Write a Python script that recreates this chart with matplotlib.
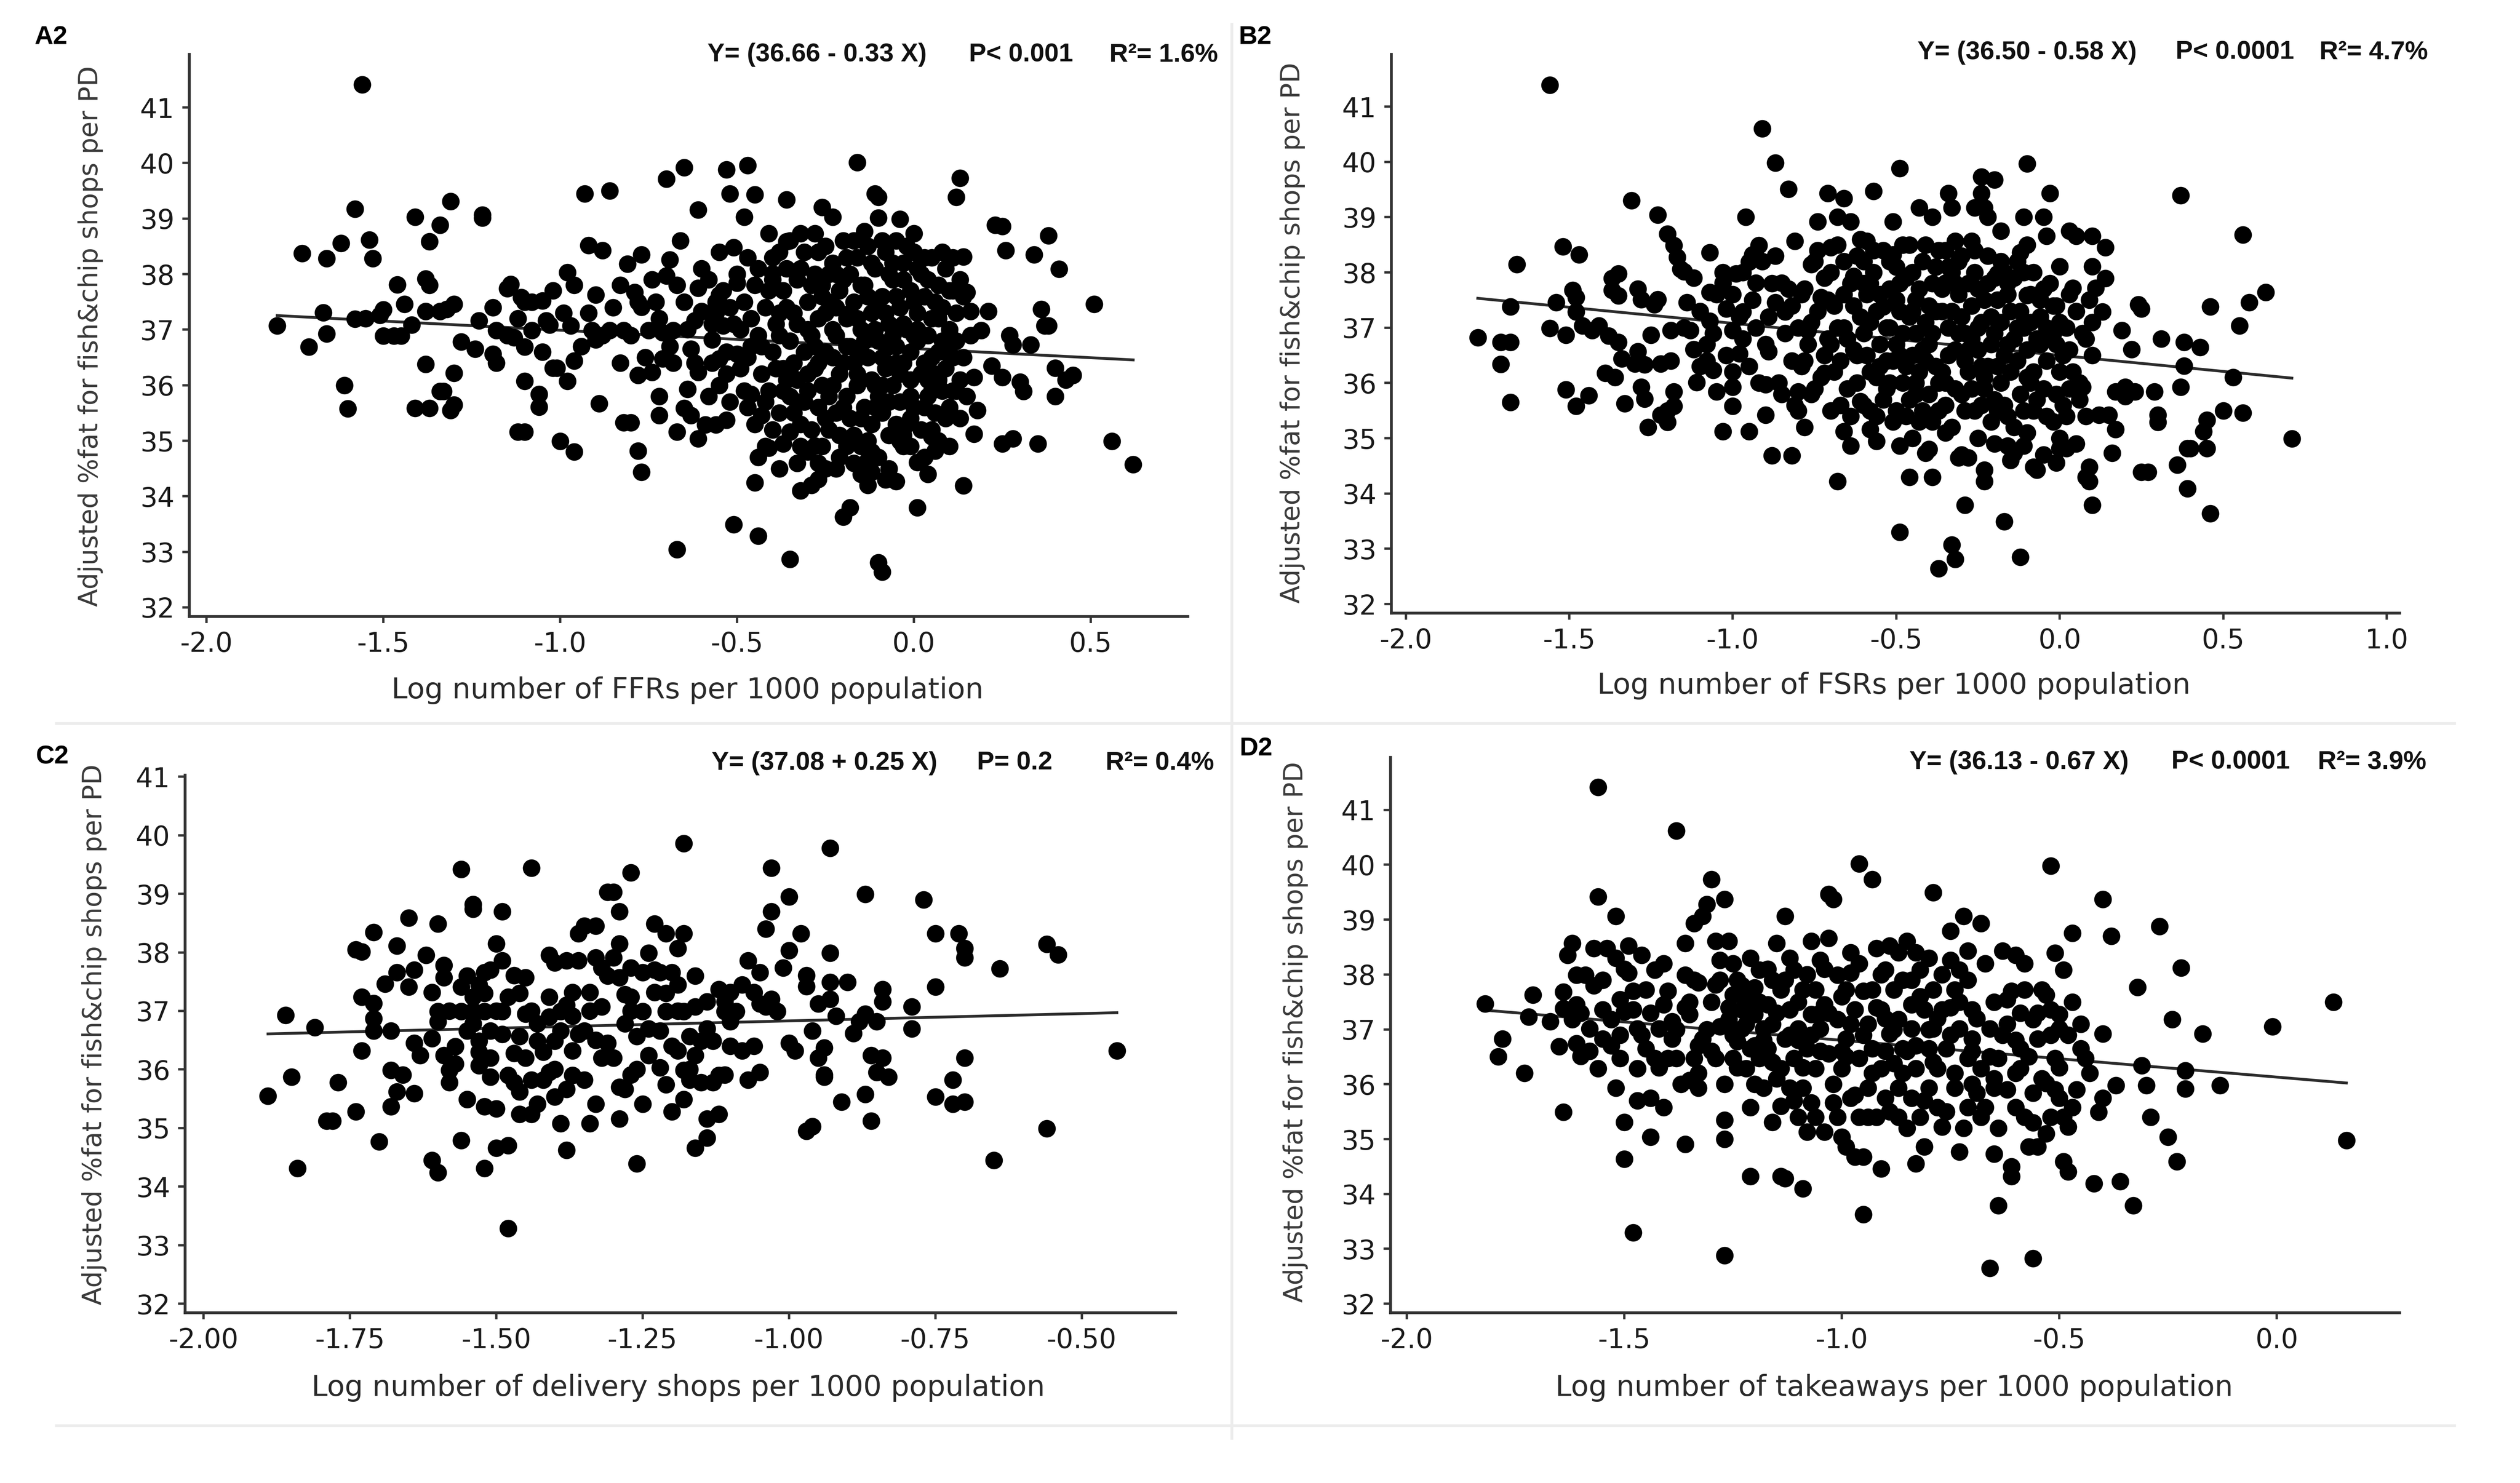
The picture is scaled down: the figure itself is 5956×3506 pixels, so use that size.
import numpy as np
import matplotlib
matplotlib.use("Agg")
import matplotlib.pyplot as plt
from matplotlib.ticker import FormatStrFormatter
from matplotlib.lines import Line2D

plt.rcParams['font.family'] = ['DejaVu Sans']
plt.rcParams['axes.unicode_minus'] = False

# ---- data (x = log number per 1000 pop, y = adjusted %fat) ----
ffr_pts = np.array([
    (-1.80,37.07),(-1.73,38.37),(-1.71,36.69),(-1.66,38.28),(-1.67,37.31),(-1.66,36.93),(-1.62,38.56),(-1.61,36.00),
    (-1.60,35.58),(-1.58,39.17),(-1.56,41.41),(-1.58,37.19),(-1.55,37.20),(-1.54,38.62),(-1.53,38.28),(-1.51,37.26),
    (-1.50,37.36),(-1.50,36.89),(-1.47,36.89),(-1.45,36.89),(-1.46,37.81),(-1.44,37.46),(-1.42,37.09),(-1.41,39.03),
    (-1.41,35.59),(-1.38,36.38),(-1.37,38.59),(-1.38,37.92),(-1.37,37.80),(-1.37,35.59),(-1.38,37.33),(-1.34,38.88),
    (-1.34,37.33),(-1.34,35.89),(-1.33,35.89),(-1.32,37.37),(-1.31,39.31),(-1.30,36.22),(-1.30,37.46),(-1.30,35.65),
    (-1.31,35.55),(-1.28,36.78),(-1.24,36.65),(-1.23,37.16),(-1.22,39.07),(-1.22,39.01),(-1.19,37.40),(-1.19,36.56),
    (-1.18,36.40),(-1.18,36.99),(-1.15,37.74),(-1.14,37.82),(-1.13,36.86),(-1.12,35.16),(-1.10,35.16),(-1.11,37.58),
    (-1.10,37.50),(-1.08,36.99),(-1.10,36.69),(-1.10,36.07),(-1.06,35.84),(-1.06,35.61),(-1.05,37.52),(-1.04,37.16),
    (-1.03,37.09),(-1.02,36.31),(-1.01,36.31),(-1.00,34.99),(-0.98,38.03),(-0.98,36.07),(-0.96,36.44),(-0.96,34.80),
    (-0.97,37.07),(-0.93,39.45),(-0.92,38.52),(-0.90,37.63),(-0.91,36.99),(-0.90,36.82),(-0.89,35.67),(-0.88,38.43),
    (-0.86,39.50),(-0.86,36.99),(-0.83,37.80),(-0.82,36.99),(-0.81,38.18),(-0.82,35.33),(-0.80,35.33),(-0.79,37.67),
    (-0.77,38.35),(-0.78,36.18),(-0.78,34.82),(-0.77,34.44),(-0.77,37.41),(-0.75,36.99),(-0.74,36.23),(-0.73,37.50),
    (-0.72,35.80),(-0.72,35.46),(-0.71,36.95),(-0.71,36.48),(-0.70,39.71),(-0.70,37.97),(-0.69,38.26),(-0.68,36.40),
    (-0.68,36.99),(-0.67,35.16),(-0.67,33.04),(-0.66,38.60),(-0.65,39.92),(-0.65,35.59),(-0.65,37.50),(-0.64,35.93),
    (-0.63,36.65),(-0.63,35.46),(-0.62,37.16),(-0.61,39.16),(-0.61,37.75),(-0.61,35.04),(-0.61,36.23),(-0.60,37.33),
    (-0.59,35.29),(-0.57,36.82),(-0.56,37.50),(-0.56,35.29),(-0.55,37.63),(-0.55,36.48),(-0.54,37.07),(-0.53,39.88),
    (-0.53,35.37),(-0.52,39.45),(-0.51,38.48),(-0.51,33.49),(-0.50,37.84),(-0.50,36.56),
    (-0.48,39.03),(-0.47,39.96),(-0.46,35.84),(-0.45,34.25),(-0.45,39.43),(-0.44,33.29),(-0.44,34.70),(-0.43,35.46),
    (-0.41,34.87),(-0.41,38.73),(-0.40,38.01),(-0.37,34.95),(-0.36,38.59),(-0.36,39.34),(-0.35,35.16),(-0.35,32.87),
    (-0.32,34.10),(-0.32,38.73),(-0.28,38.73),(-0.28,34.91),(-0.27,34.31),(-0.26,39.20),(-0.23,39.03),(-0.20,33.63),
    (-0.18,33.80),(-0.16,40.01),(-0.14,38.77),(-0.13,34.65),(-0.12,34.44),(-0.11,39.45),(-0.10,39.39),(-0.10,32.81),
    (-0.09,32.64),(-0.10,39.01),(-0.05,34.27),(-0.04,38.99),(-0.04,34.99),(0.01,33.80),(0.00,38.73),(0.01,34.61),
    (0.04,34.40),(0.05,35.08),(0.06,34.82),
    (0.12,39.39),(0.13,39.73),(0.14,34.19),(0.14,38.31),(0.15,37.67),(0.16,37.33),(0.17,36.14),(0.17,35.12),
    (0.18,35.55),(0.19,36.99),(0.21,37.33),(0.22,36.35),(0.23,38.88),(0.25,34.95),(0.25,38.86),(0.26,38.43),
    (0.25,36.14),(0.27,36.90),(0.28,35.04),(0.28,36.73),(0.30,36.06),(0.31,35.89),(0.33,36.73),(0.34,38.35),
    (0.35,34.95),(0.36,37.37),(0.37,37.07),(0.38,37.07),(0.38,38.69),(0.40,36.31),(0.41,38.09),(0.40,35.80),
    (0.43,36.10),(0.45,36.18),(0.51,37.46),(0.56,34.99),(0.62,34.57),
    # dense core
    (-0.45,37.8),(-0.44,36.9),(-0.43,36.2),(-0.42,37.4),(-0.41,35.9),(-0.40,38.3),(-0.40,36.6),(-0.39,37.1),
    (-0.38,35.5),(-0.37,37.7),(-0.37,36.3),(-0.36,38.1),(-0.35,36.8),(-0.35,35.8),(-0.34,37.3),(-0.33,37.9),
    (-0.33,36.1),(-0.32,35.3),(-0.31,36.6),(-0.31,38.4),(-0.30,37.5),(-0.30,35.9),(-0.29,36.9),(-0.28,38.0),
    (-0.28,36.3),(-0.27,35.6),(-0.27,37.2),(-0.26,37.8),(-0.26,34.9),(-0.25,36.6),(-0.25,38.5),(-0.24,35.2),
    (-0.24,37.5),(-0.23,36.0),(-0.23,38.2),(-0.22,36.9),(-0.22,35.5),(-0.21,37.7),(-0.21,34.7),(-0.20,36.4),
    (-0.20,38.6),(-0.19,37.2),(-0.19,35.8),(-0.18,38.0),(-0.18,36.7),(-0.17,35.1),(-0.17,37.5),(-0.16,36.2),
    (-0.16,38.3),(-0.15,34.9),(-0.15,37.0),(-0.14,35.6),(-0.14,37.8),(-0.13,36.5),(-0.13,38.5),(-0.12,35.3),
    (-0.12,37.3),(-0.11,36.0),(-0.11,38.1),(-0.10,34.7),(-0.10,36.8),(-0.09,37.6),(-0.09,35.5),(-0.08,36.3),
    (-0.08,38.4),(-0.07,37.1),(-0.07,35.1),(-0.06,37.9),(-0.06,36.0),(-0.05,36.7),(-0.05,38.6),(-0.04,35.7),
    (-0.04,37.4),(-0.03,36.4),(-0.03,38.2),(-0.02,35.3),(-0.02,37.0),(-0.01,37.7),(-0.01,36.1),(0.00,35.6),
    (0.00,38.4),(0.01,36.8),(0.01,37.3),(0.02,35.2),(0.02,38.0),(0.03,36.4),(0.03,37.6),(0.04,35.8),
    (0.04,36.9),(0.05,38.3),(0.05,37.2),(0.06,36.2),(0.06,35.5),(0.07,37.8),(0.07,36.6),(0.08,35.9),
    (0.08,37.4),(0.09,38.1),(0.09,36.3),(0.10,37.0),(0.10,35.6),(0.11,37.7),(0.11,36.5),(0.12,35.9),
    (0.12,37.3),(0.13,36.1),(0.14,37.6),
    (-0.58,37.9),(-0.57,36.4),(-0.56,37.3),(-0.55,36.0),(-0.54,37.7),(-0.53,36.6),(-0.52,35.7),(-0.51,37.1),
    (-0.50,38.0),(-0.49,36.3),(-0.48,37.5),(-0.47,35.6),(-0.46,36.7),(-0.47,38.3),
    (-0.32,34.9),(-0.30,34.8),(-0.27,34.6),(-0.22,34.5),(-0.19,34.9),(-0.15,34.4),(-0.12,34.8),(-0.08,34.3),
    (-0.03,34.9),(0.03,34.7),
    (-0.49,37.0),(-0.48,35.9),(-0.47,36.5),(-0.46,37.2),(-0.45,35.3),(-0.44,38.1),(-0.43,36.7),(-0.42,35.7),
    (-0.41,37.7),(-0.40,35.2),(-0.39,36.3),(-0.38,38.4),(-0.38,36.9),(-0.37,35.9),(-0.36,37.4),(-0.35,38.6),
    (-0.34,36.4),(-0.34,35.5),(-0.33,37.1),(-0.32,38.1),(-0.31,35.7),(-0.30,36.2),(-0.29,37.8),(-0.29,35.2),
    (-0.28,36.7),(-0.27,38.4),(-0.26,36.0),(-0.25,37.3),(-0.24,35.8),(-0.24,38.0),(-0.23,36.5),(-0.22,37.4),
    (-0.21,35.1),(-0.21,36.2),(-0.20,37.9),(-0.19,36.7),(-0.18,35.4),(-0.18,37.3),(-0.17,38.6),(-0.16,36.0),
    (-0.15,35.4),(-0.15,37.8),(-0.14,36.8),(-0.13,35.0),(-0.12,36.1),(-0.12,38.2),(-0.11,37.0),(-0.10,35.8),
    (-0.09,36.5),(-0.09,38.6),(-0.08,37.3),(-0.07,35.7),(-0.07,36.7),(-0.06,38.2),(-0.05,35.3),(-0.05,37.6),
    (-0.04,36.2),(-0.03,37.1),(-0.03,35.1),(-0.02,38.5),(-0.01,36.6),(-0.01,35.4),(0.00,37.5),(0.01,38.1),
    (0.02,36.2),(0.02,36.9),(0.03,35.6),(0.04,37.9),(0.05,36.5),(0.05,35.2),(0.06,37.5),(0.07,36.1),
    (0.08,38.4),(0.08,36.8),(0.09,35.4),(0.10,37.7),(0.11,35.9),(0.12,36.8),(0.13,37.9),(0.14,36.5),
    (0.15,35.8),(0.16,36.9),
    (-1.15,36.9),(-1.12,37.2),(-1.08,37.5),(-1.05,36.6),(-1.02,37.7),(-0.99,37.3),(-0.96,37.8),(-0.94,36.7),
    (-0.92,37.3),(-0.88,36.9),(-0.85,37.4),(-0.83,36.4),(-0.80,36.9),(-0.78,37.5),(-0.76,36.5),(-0.74,37.9),
    (-0.72,37.2),(-0.69,36.7),(-0.67,37.8),(-0.64,37.0),(-0.62,36.4),(-0.60,38.1),(-0.58,35.8),(-0.57,37.1),
    (-0.55,38.4),(-0.53,36.2),(-0.52,37.4),
    (-0.42,34.9),(-0.38,34.5),(-0.33,34.6),(-0.29,34.2),(-0.25,34.5),(-0.17,34.6),(-0.13,34.2),(-0.07,34.5),
    (-0.01,34.9),(0.07,35.0),(0.10,34.9),
    (-0.36,36.1),(-0.33,35.7),(-0.30,37.0),(-0.27,36.4),(-0.25,35.4),(-0.23,37.0),(-0.20,35.6),(-0.19,38.3),
    (-0.17,36.4),(-0.15,36.6),(-0.13,37.6),(-0.11,35.6),(-0.09,36.0),(-0.07,38.0),(-0.05,36.4),(-0.03,37.9),
    (-0.01,35.8),(0.01,37.0),(0.03,38.3),(0.05,35.9),(0.07,37.2),(0.09,36.6),(0.11,38.3),(0.13,35.4),
    (-0.40,37.9),(-0.38,37.3),(-0.35,36.3),(-0.26,37.6),(-0.22,38.0),(-0.16,37.2),(-0.10,37.4),(-0.06,36.9),
    (0.00,36.9),(0.04,36.1),
])

fsr_pts = np.array([
    (-1.56,41.39),(-1.78,36.82),(-1.71,36.34),(-1.71,36.74),(-1.68,36.74),(-1.68,37.38),(-1.68,35.65),(-1.66,38.15),
    (-1.56,36.99),(-1.54,37.46),(-1.52,38.47),(-1.51,35.88),(-1.51,36.87),(-1.49,37.68),(-1.48,37.55),(-1.48,37.29),
    (-1.47,38.32),(-1.48,35.58),(-1.46,37.04),(-1.44,35.77),(-1.43,36.95),(-1.41,37.04),(-1.39,36.18),(-1.38,36.85),
    (-1.37,37.89),(-1.37,37.68),(-1.36,36.10),(-1.35,36.74),(-1.35,37.98),(-1.35,37.58),(-1.34,36.44),(-1.33,35.63),
    (-1.31,39.30),(-1.30,36.35),(-1.29,36.57),(-1.29,37.70),(-1.28,35.93),(-1.28,37.51),(-1.27,35.71),(-1.27,36.33),
    (-1.26,35.20),(-1.25,36.87),(-1.24,37.42),(-1.23,37.51),(-1.23,39.04),(-1.22,36.35),(-1.22,35.42),(-1.20,35.50),
    (-1.20,35.29),(-1.20,38.70),(-1.19,36.95),(-1.19,36.40),(-1.18,35.58),(-1.18,35.84),(-1.18,38.49),(-1.17,38.28),
    (-1.16,38.06),(-1.15,38.02),(-1.14,37.46),(-1.13,36.95),(-1.12,36.61),(-1.11,36.01),(-1.08,36.40),(-1.07,38.36),
    (-1.07,37.64),(-1.07,37.12),(-1.06,36.23),(-1.05,35.84),(-1.03,35.12),(-1.03,37.81),(-1.02,37.34),(-1.00,36.95),
    (-1.00,35.93),(-1.00,35.58),(-0.99,37.98),(-0.98,36.53),(-0.97,37.29),(-0.96,39.00),(-0.95,35.12),(-0.95,38.19),
    (-0.94,38.32),(-0.93,37.81),(-0.92,38.49),(-0.91,40.60),(-0.90,35.97),(-0.90,35.42),(-0.89,36.57),(-0.88,34.69),
    (-0.87,39.98),(-0.87,37.46),(-0.85,37.81),(-0.84,37.29),(-0.83,39.51),(-0.82,34.69),(-0.81,38.57),(-0.80,35.84),
    (-0.80,35.50),(-0.78,35.20),(-0.77,36.95),(-0.76,38.15),(-0.74,38.92),(-0.73,37.55),(-0.72,36.18),(-0.71,39.43),
    (-0.70,38.45),(-0.68,34.22),(-0.68,39.00),(-0.66,39.34),(-0.66,35.12),(-0.64,38.92),(-0.64,34.86),(-0.63,37.93),
    (-0.61,35.67),(-0.59,38.57),(-0.58,35.16),(-0.57,39.47),(-0.56,34.95),(-0.54,37.38),(-0.51,38.92),(-0.51,38.32),
    (-0.49,34.86),(-0.49,39.88),(-0.46,34.30),(-0.49,33.30),(-0.43,39.17),(-0.41,34.73),(-0.39,34.30),(-0.37,32.64),
    (-0.39,39.00),(-0.35,37.81),(-0.34,39.43),(-0.33,39.17),(-0.33,33.07),(-0.32,32.81),(-0.32,38.57),(-0.31,34.65),
    (-0.29,33.79),(-0.28,34.65),(-0.27,38.57),(-0.26,39.17),(-0.24,39.43),(-0.24,39.73),(-0.23,39.17),(-0.23,34.43),
    (-0.22,39.00),(-0.23,34.22),(-0.20,39.68),(-0.19,37.98),(-0.18,38.75),(-0.17,33.49),(-0.16,34.86),(-0.16,37.81),
    (-0.14,34.73),(-0.12,32.85),(-0.12,38.36),(-0.11,39.00),(-0.11,34.86),(-0.10,39.97),(-0.10,37.59),(-0.08,34.48),
    (-0.07,34.43),(-0.05,39.00),(-0.04,38.66),(-0.03,39.43),(-0.01,34.56),(0.00,34.82),(0.00,38.11),(0.02,34.82),
    (0.03,38.75),(0.04,37.72),(0.05,38.66),(0.07,35.93),(0.08,34.30),(0.09,34.48),(0.09,34.22),(0.10,33.79),
    (0.10,38.66),(0.10,38.11),(0.11,37.72),(0.12,35.42),(0.13,37.29),(0.14,37.89),(0.14,38.45),(0.15,35.42),
    (0.16,34.73),(0.17,35.16),(0.17,35.84),(0.19,36.95),(0.20,35.93),(0.20,35.76),(0.22,36.61),(0.23,35.84),
    (0.24,37.42),(0.25,37.34),(0.25,34.39),(0.27,34.39),(0.29,35.84),(0.30,35.42),(0.30,35.29),(0.31,36.80),
    (0.36,34.52),(0.37,35.93),(0.37,39.39),(0.38,36.31),(0.38,36.74),(0.39,34.09),(0.39,34.82),(0.40,34.82),
    (0.43,36.65),(0.44,35.12),(0.45,34.82),(0.45,35.33),(0.46,33.64),(0.46,37.38),(0.50,35.50),(0.53,36.10),
    (0.55,37.04),(0.56,38.68),(0.56,35.46),(0.58,37.46),(0.63,37.64),(0.71,34.99),
    # dense core
    (-0.80,37.0),(-0.79,36.3),(-0.78,37.7),(-0.77,36.7),(-0.76,35.8),(-0.75,38.2),(-0.74,37.3),(-0.73,36.1),
    (-0.72,37.9),(-0.71,36.8),(-0.70,35.5),(-0.69,37.4),(-0.68,38.5),(-0.67,36.4),(-0.66,37.0),(-0.65,35.9),
    (-0.64,37.8),(-0.63,36.6),(-0.62,38.3),(-0.61,37.2),(-0.60,35.6),(-0.60,36.9),(-0.59,37.6),(-0.58,36.2),
    (-0.57,38.0),(-0.56,35.4),(-0.56,37.3),(-0.55,36.7),(-0.54,38.4),(-0.53,35.9),(-0.53,37.0),(-0.52,37.7),
    (-0.51,36.4),(-0.50,35.5),(-0.50,38.1),(-0.49,37.3),(-0.48,36.0),(-0.48,36.9),(-0.47,37.9),(-0.46,35.7),
    (-0.46,38.5),(-0.45,36.5),(-0.44,37.5),(-0.43,35.3),(-0.43,36.2),(-0.42,38.2),(-0.41,37.1),(-0.40,36.7),
    (-0.40,35.8),(-0.39,37.8),(-0.38,36.3),(-0.37,38.4),(-0.37,35.5),(-0.36,37.3),(-0.35,36.0),(-0.34,37.0),
    (-0.33,38.0),(-0.33,35.2),(-0.32,36.6),(-0.31,37.6),(-0.30,35.8),(-0.30,38.3),(-0.29,36.9),(-0.28,36.2),
    (-0.27,37.4),(-0.26,35.5),(-0.26,38.0),(-0.25,36.6),(-0.24,37.1),(-0.23,35.9),(-0.22,37.8),(-0.22,36.3),
    (-0.21,35.3),(-0.20,36.9),(-0.19,37.5),(-0.18,36.0),(-0.18,38.2),(-0.17,35.6),(-0.16,36.7),(-0.15,37.3),
    (-0.14,35.2),(-0.14,37.9),(-0.13,36.4),(-0.12,35.8),(-0.11,37.0),(-0.10,36.1),(-0.10,38.5),(-0.09,37.6),
    (-0.08,35.5),(-0.07,36.8),(-0.06,37.2),(-0.05,35.9),(-0.04,36.4),(-0.03,37.8),(-0.02,35.3),(-0.02,36.9),
    (-0.01,37.4),(0.00,36.2),(0.01,35.6),(0.02,37.0),(0.03,36.6),(0.05,37.3),(0.06,36.0),(0.07,36.9),
    (0.08,35.4),(0.09,37.5),(0.10,36.5),
    (-1.10,37.3),(-1.08,36.7),(-1.05,37.6),(-1.02,36.5),(-0.98,37.2),(-0.95,36.3),(-0.93,37.0),(-0.90,36.7),
    (-0.88,37.8),(-0.86,36.0),(-0.84,36.9),(-0.82,37.4),(-0.81,35.6),(-0.97,38.0),(-0.91,38.2),(-1.00,37.6),
    (-0.79,37.6),(-0.78,36.4),(-0.76,37.1),(-0.75,35.9),(-0.74,38.4),(-0.72,36.5),(-0.71,37.5),(-0.70,38.0),
    (-0.69,36.2),(-0.68,37.0),(-0.67,35.6),(-0.66,38.2),(-0.65,36.8),(-0.64,35.4),(-0.63,37.4),(-0.62,36.0),
    (-0.61,38.6),(-0.60,37.8),(-0.59,36.5),(-0.58,35.5),(-0.58,37.1),(-0.57,38.4),(-0.56,36.1),(-0.55,37.6),
    (-0.54,35.7),(-0.53,36.4),(-0.52,38.2),(-0.52,37.0),(-0.51,35.3),(-0.50,36.7),(-0.49,37.8),(-0.48,38.5),
    (-0.47,36.3),(-0.47,35.4),(-0.46,37.2),(-0.45,38.0),(-0.44,36.0),(-0.44,36.9),(-0.43,37.7),(-0.42,35.5),
    (-0.41,38.5),(-0.41,36.4),(-0.40,37.4),(-0.39,35.3),(-0.39,36.9),(-0.38,38.1),(-0.37,36.0),(-0.36,37.7),
    (-0.35,35.6),(-0.35,38.4),(-0.34,36.5),(-0.33,37.3),(-0.32,35.9),(-0.31,36.9),(-0.31,38.2),(-0.30,37.2),
    (-0.29,35.5),(-0.28,37.8),(-0.28,36.6),(-0.27,35.9),(-0.26,38.4),(-0.25,37.0),(-0.24,35.6),(-0.24,36.3),
    (-0.23,37.5),(-0.22,38.3),(-0.21,36.7),(-0.20,35.7),(-0.20,37.9),(-0.19,36.3),(-0.18,37.1),(-0.17,38.0),
    (-0.16,35.4),(-0.16,37.6),(-0.15,36.2),(-0.14,36.8),(-0.13,38.2),(-0.12,37.3),(-0.11,35.5),(-0.10,36.6),
    (-0.09,37.1),(-0.08,36.2),(-0.08,38.0),(-0.07,35.7),(-0.06,36.7),(-0.05,37.7),(-0.04,35.4),(-0.03,36.8),
    (-0.02,37.4),(-0.01,35.8),(0.00,37.1),(0.01,36.5),(0.02,35.4),(0.03,37.6),(0.04,36.2),(0.06,35.7),
    (0.08,36.8),(0.10,37.1),
    (-0.45,35.0),(-0.40,34.8),(-0.35,35.1),(-0.30,34.7),(-0.25,35.0),(-0.20,34.9),(-0.15,34.6),(-0.10,35.1),
    (-0.05,34.7),(0.00,35.0),(0.05,34.9),
    (-1.15,37.0),(-1.12,37.9),(-1.10,36.3),(-1.06,36.9),(-1.03,38.0),(-1.00,36.2),(-0.97,36.8),(-0.94,37.5),
    (-0.92,36.0),(-0.89,37.2),(-0.87,38.3),(-0.85,35.8),(-0.83,37.7),(-0.82,36.4),
    (-0.70,36.7),(-0.66,37.6),(-0.62,36.5),(-0.58,37.8),(-0.55,36.3),(-0.52,36.0),(-0.49,36.5),(-0.45,37.3),
    (-0.42,36.6),(-0.38,37.3),(-0.36,36.2),(-0.32,37.8),(-0.29,36.4),(-0.27,36.8),(-0.25,37.7),(-0.21,37.2),
    (-0.19,35.5),(-0.17,36.5),(-0.13,37.0),(-0.11,38.0),(-0.09,36.0),(-0.06,37.5),(-0.04,37.0),(-0.01,36.7),
    (0.03,35.9),(-0.60,38.2),(-0.50,37.5),(-0.44,35.8),(-0.34,38.1),(-0.23,36.1),
])

delivery_pts = np.array([
    (-1.89,35.55),(-1.86,36.93),(-1.85,35.87),(-1.84,34.31),(-1.81,36.72),(-1.79,35.12),(-1.78,35.12),(-1.77,35.78),
    (-1.74,35.28),(-1.74,38.05),(-1.73,38.01),(-1.73,37.24),(-1.73,36.32),(-1.71,38.34),(-1.71,37.13),(-1.71,36.87),
    (-1.71,36.66),(-1.70,34.77),(-1.69,37.46),(-1.68,35.99),(-1.68,36.66),(-1.68,35.37),(-1.67,37.66),(-1.67,38.11),
    (-1.67,35.62),(-1.66,35.91),(-1.65,38.59),(-1.65,37.41),(-1.64,36.45),(-1.64,37.70),(-1.64,35.59),(-1.63,36.24),
    (-1.62,37.95),(-1.61,34.45),(-1.61,36.53),(-1.61,37.32),(-1.60,34.24),(-1.60,38.49),(-1.60,36.99),(-1.60,36.82),
    (-1.59,37.78),(-1.59,37.57),(-1.59,36.24),(-1.58,35.78),(-1.58,35.99),(-1.57,36.39),(-1.56,34.79),(-1.56,37.41),
    (-1.56,39.42),(-1.56,36.99),(-1.55,36.66),(-1.55,35.49),(-1.54,38.82),(-1.54,37.24),(-1.54,36.78),(-1.54,38.74),
    (-1.53,36.07),(-1.53,37.45),(-1.53,36.49),(-1.52,36.99),(-1.52,37.66),(-1.52,35.37),(-1.52,34.31),(-1.51,35.87),
    (-1.51,36.66),(-1.51,37.70),(-1.50,34.66),(-1.50,35.33),(-1.50,38.15),(-1.49,38.70),(-1.49,37.86),(-1.49,36.99),
    (-1.48,34.70),(-1.48,33.29),(-1.48,37.24),(-1.47,35.78),(-1.47,36.28),(-1.47,37.61),(-1.46,35.24),(-1.46,36.57),
    (-1.46,35.62),(-1.45,36.95),(-1.45,37.57),(-1.44,39.44),(-1.44,35.82),(-1.44,35.24),(-1.43,36.49),(-1.43,35.41),
    (-1.43,36.78),(-1.42,35.82),(-1.41,37.95),(-1.41,37.24),(-1.41,35.95),(-1.40,36.49),(-1.40,35.53),(-1.40,37.82),
    (-1.39,36.99),(-1.39,35.08),(-1.39,36.66),(-1.38,37.86),(-1.38,34.62),(-1.38,35.66),(-1.37,36.32),(-1.37,37.32),
    (-1.37,36.91),(-1.36,38.32),(-1.36,37.86),(-1.35,35.82),(-1.35,38.45),(-1.35,36.66),(-1.34,35.08),(-1.34,37.32),
    (-1.33,37.91),(-1.33,38.45),(-1.33,35.41),(-1.32,36.20),(-1.32,37.07),(-1.32,37.74),(-1.31,39.03),(-1.31,36.45),
    (-1.30,37.91),(-1.30,39.03),(-1.29,38.70),(-1.29,35.16),(-1.29,37.57),(-1.29,38.15),(-1.28,36.78),(-1.28,37.28),
    (-1.28,35.66),(-1.27,35.91),(-1.27,37.74),(-1.27,39.36),(-1.27,37.24),(-1.26,36.57),(-1.26,34.39),(-1.25,35.41),
    (-1.25,37.66),(-1.25,36.99),(-1.24,36.24),(-1.24,37.99),(-1.23,37.32),(-1.23,38.49),(-1.22,36.66),(-1.22,37.66),
    (-1.22,36.03),(-1.21,36.99),(-1.21,38.32),(-1.21,35.74),(-1.20,37.66),(-1.20,35.28),(-1.19,36.32),(-1.19,38.07),
    (-1.19,37.45),(-1.18,35.99),(-1.18,39.86),(-1.18,35.49),(-1.18,36.99),(-1.18,38.32),(-1.17,36.57),(-1.17,35.82),
    (-1.16,36.24),(-1.16,34.66),(-1.16,37.07),(-1.15,35.78),(-1.15,36.49),(-1.14,37.16),(-1.14,35.16),(-1.14,34.83),
    (-1.13,35.78),(-1.13,36.49),(-1.12,35.24),(-1.12,37.37),(-1.11,36.99),(-1.11,35.91),(-1.11,37.16),(-1.10,37.32),
    (-1.10,36.82),(-1.09,36.99),(-1.08,36.32),(-1.08,37.45),(-1.07,37.86),(-1.07,35.82),(-1.06,36.40),(-1.06,37.32),
    (-1.05,37.12),(-1.05,35.95),(-1.05,37.66),(-1.04,38.40),(-1.04,37.07),(-1.03,39.44),(-1.03,38.70),(-1.03,37.20),
    (-1.02,36.99),(-1.01,37.74),(-1.00,38.03),(-1.00,38.95),(-1.00,36.45),(-0.99,36.32),(-0.98,38.32),(-0.97,37.61),
    (-0.97,37.42),(-0.97,34.95),(-0.96,36.66),(-0.96,35.03),(-0.95,36.20),(-0.95,37.12),(-0.94,35.91),(-0.94,36.37),
    (-0.94,35.87),(-0.93,37.20),(-0.93,39.78),(-0.93,37.99),(-0.93,37.49),(-0.92,36.91),(-0.91,35.45),(-0.90,37.49),
    (-0.89,36.62),(-0.88,36.82),(-0.87,36.95),(-0.87,38.99),(-0.87,35.58),(-0.86,35.12),(-0.86,36.24),(-0.85,35.95),
    (-0.85,36.82),(-0.84,37.37),(-0.84,36.20),(-0.84,37.16),(-0.83,35.87),(-0.79,37.07),(-0.79,36.70),(-0.77,38.90),
    (-0.75,38.32),(-0.75,35.53),(-0.75,37.41),(-0.72,35.82),(-0.72,35.41),(-0.71,38.32),(-0.70,35.45),(-0.70,38.07),
    (-0.70,37.91),(-0.70,36.20),(-0.65,34.45),(-0.64,37.72),(-0.56,34.99),(-0.56,38.14),(-0.54,37.96),(-0.44,36.32),
    (-1.58,37.0),(-1.57,36.1),(-1.55,37.6),(-1.54,37.0),(-1.53,36.3),(-1.52,37.3),(-1.51,36.2),(-1.50,37.0),
    (-1.49,36.6),(-1.48,35.9),(-1.46,37.3),(-1.45,36.2),(-1.44,37.0),(-1.42,36.3),(-1.41,36.9),(-1.40,36.0),
    (-1.38,37.1),(-1.37,35.9),(-1.36,36.6),(-1.34,37.0),(-1.33,36.5),(-1.31,37.6),(-1.30,36.2),(-1.29,35.7),
    (-1.27,37.0),(-1.26,36.0),(-1.24,36.7),(-1.23,37.7),(-1.21,37.3),(-1.20,36.4),(-1.19,37.0),(-1.17,36.0),
    (-1.16,37.6),(-1.14,36.7),(-1.12,35.9),(-1.10,36.4),
])

takeaway_pts = np.array([
    (-1.82,37.47),(-1.79,36.50),(-1.78,36.83),(-1.73,36.20),(-1.71,37.63),(-1.72,37.23),(-1.67,37.14),(-1.65,36.69),
    (-1.64,37.38),(-1.64,35.49),(-1.64,37.68),(-1.63,38.35),(-1.62,38.57),(-1.61,37.99),(-1.62,37.18),(-1.61,37.45),
    (-1.61,36.74),(-1.60,36.51),(-1.59,37.99),(-1.58,37.01),(-1.57,38.48),(-1.56,39.42),(-1.56,41.41),(-1.56,36.29),
    (-1.55,37.36),(-1.55,36.83),(-1.54,38.48),(-1.53,37.18),(-1.52,39.06),(-1.52,38.30),(-1.52,35.93),(-1.51,36.47),
    (-1.51,37.54),(-1.50,37.32),(-1.50,35.31),(-1.50,34.64),(-1.49,38.03),(-1.49,38.52),(-1.48,33.30),(-1.48,37.36),
    (-1.47,37.01),(-1.47,36.29),(-1.46,38.35),(-1.45,37.72),(-1.45,36.65),(-1.44,35.04),(-1.44,35.75),(-1.43,38.08),
    (-1.43,36.47),(-1.42,37.01),(-1.41,35.58),(-1.41,37.45),(-1.40,36.47),(-1.39,36.83),(-1.39,37.14),(-1.38,40.62),
    (-1.38,36.47),(-1.36,34.91),(-1.36,37.99),(-1.36,38.57),(-1.35,36.07),(-1.35,37.27),(-1.34,36.47),(-1.34,38.93),
    (-1.33,35.93),(-1.33,37.85),(-1.32,36.83),(-1.32,39.06),(-1.31,39.28),(-1.30,39.73),(-1.30,37.50),(-1.29,37.81),
    (-1.29,36.47),(-1.29,38.61),(-1.28,38.26),(-1.28,37.05),(-1.27,39.37),(-1.27,35.35),(-1.27,35.00),(-1.27,32.88),
    (-1.26,38.61),(-1.26,37.18),(-1.25,37.63),(-1.25,36.47),(-1.24,36.78),(-1.24,37.90),(-1.23,37.36),(-1.23,37.01),
    (-1.22,36.29),(-1.22,37.54),(-1.21,36.65),(-1.21,34.32),(-1.21,35.58),(-1.20,37.76),(-1.20,37.27),(-1.19,36.47),
    (-1.19,38.08),(-1.18,37.01),(-1.18,35.93),(-1.17,37.45),(-1.17,36.65),(-1.16,37.90),(-1.16,35.31),(-1.16,37.10),
    (-1.15,38.57),(-1.14,36.29),(-1.14,37.72),(-1.14,34.32),(-1.13,39.06),(-1.13,36.83),(-1.13,34.28),(-1.12,37.36),
    (-1.12,35.93),(-1.11,36.47),(-1.11,38.08),(-1.10,35.40),(-1.10,37.01),(-1.09,34.10),(-1.09,37.72),(-1.09,35.93),
    (-1.08,36.65),(-1.08,35.13),(-1.07,37.27),(-1.07,38.61),(-1.07,35.66),(-1.06,37.72),(-1.06,36.29),(-1.05,37.01),
    (-1.05,38.26),(-1.04,35.13),(-1.04,37.45),(-1.03,39.46),(-1.03,36.56),(-1.03,38.66),(-1.02,39.37),(-1.02,35.66),
    (-1.01,37.99),(-1.01,37.18),(-1.00,35.04),(-1.00,36.29),(-0.99,37.72),(-0.99,36.83),(-0.99,34.86),(-0.98,35.75),
    (-0.98,38.03),(-0.97,37.36),(-0.97,34.68),(-0.96,36.47),(-0.96,40.02),(-0.96,35.40),(-0.95,34.68),(-0.95,33.63),
    (-0.94,37.10),(-0.94,35.93),(-0.93,37.72),(-0.93,36.65),(-0.93,39.73),(-0.92,35.40),(-0.92,38.48),(-0.91,37.36),
    (-0.91,34.46),(-0.91,36.29),(-0.90,38.08),(-0.90,35.75),(-0.89,36.92),(-0.89,38.52),(-0.88,37.72),(-0.88,36.38),
    (-0.87,35.93),(-0.87,37.18),(-0.87,35.40),(-0.86,37.90),(-0.86,36.65),(-0.85,38.61),(-0.84,37.45),(-0.84,35.75),
    (-0.84,37.01),(-0.83,36.29),(-0.83,34.55),(-0.82,38.08),(-0.82,35.40),(-0.81,37.36),(-0.81,34.86),(-0.80,36.65),
    (-0.80,35.93),(-0.79,37.72),(-0.79,39.49),(-0.79,37.01),(-0.78,35.58),(-0.78,36.29),(-0.77,35.22),(-0.77,37.36),
    (-0.76,36.65),(-0.75,38.26),(-0.75,38.79),(-0.74,35.93),(-0.74,37.72),(-0.73,34.77),(-0.73,37.01),(-0.73,38.08),
    (-0.72,39.06),(-0.71,38.43),(-0.71,36.47),(-0.71,35.58),(-0.70,37.36),(-0.70,36.83),(-0.69,35.84),(-0.68,38.93),
    (-0.68,36.29),(-0.67,35.58),(-0.66,37.01),(-0.66,32.65),(-0.65,34.73),(-0.65,35.93),(-0.64,33.79),(-0.64,36.47),
    (-0.63,38.43),(-0.62,37.10),(-0.62,37.54),(-0.61,34.50),(-0.61,34.32),(-0.60,35.58),(-0.60,38.35),(-0.59,36.65),
    (-0.59,36.29),(-0.58,37.72),(-0.58,35.40),(-0.57,34.86),(-0.56,37.18),(-0.56,35.84),(-0.56,32.83),(-0.55,34.86),
    (-0.55,36.83),(-0.54,37.72),(-0.53,37.63),(-0.53,36.02),(-0.52,37.36),(-0.52,39.98),(-0.52,35.40),(-0.51,36.47),
    (-0.51,38.39),(-0.50,37.01),(-0.50,37.27),(-0.50,35.75),(-0.49,34.59),(-0.49,38.08),(-0.48,35.22),(-0.48,34.41),
    (-0.47,38.75),(-0.47,35.58),(-0.45,36.65),(-0.44,36.47),(-0.43,36.20),(-0.42,34.19),(-0.41,35.49),(-0.40,36.92),
    (-0.40,35.75),(-0.40,39.37),(-0.38,38.70),(-0.37,35.98),(-0.36,34.23),(-0.33,33.79),(-0.32,37.77),(-0.31,36.34),
    (-0.30,35.98),(-0.29,35.40),(-0.27,38.88),(-0.25,35.04),(-0.24,37.18),(-0.23,34.59),(-0.22,38.12),(-0.21,36.25),
    (-0.21,35.92),(-0.17,36.92),(-0.13,35.98),(-0.01,37.05),(0.13,37.50),(0.16,34.98),
    (-1.35,37.5),(-1.33,36.2),(-1.31,37.0),(-1.30,36.6),(-1.28,37.9),(-1.27,36.0),(-1.26,37.4),(-1.25,38.2),
    (-1.24,36.3),(-1.23,37.8),(-1.22,37.1),(-1.21,38.3),(-1.20,36.0),(-1.19,37.5),(-1.18,36.8),(-1.17,38.1),
    (-1.16,36.4),(-1.15,37.3),(-1.14,35.6),(-1.13,37.9),(-1.12,36.9),(-1.11,35.7),(-1.10,37.5),(-1.09,36.3),
    (-1.08,38.0),(-1.07,36.9),(-1.06,35.4),(-1.05,36.6),(-1.04,38.1),(-1.03,37.3),(-1.02,36.0),(-1.01,35.4),
    (-1.00,37.6),(-0.99,36.5),(-0.98,37.1),(-0.97,35.8),(-0.96,38.2),(-0.95,36.9),(-0.94,35.4),(-0.93,36.2),
    (-0.92,37.4),(-0.91,38.0),(-0.90,36.6),(-0.89,35.5),(-0.88,37.0),(-0.87,38.4),(-0.86,36.2),(-0.85,35.2),
    (-0.84,37.9),(-0.83,36.7),(-0.82,37.6),(-0.81,35.7),(-0.80,38.3),(-0.79,36.4),(-0.78,37.2),(-0.77,38.0),
    (-0.76,35.5),(-0.75,36.9),(-0.74,36.2),(-0.73,37.5),(-0.72,35.2),(-0.71,37.9),(-0.70,36.0),(-0.69,37.2),
    (-0.68,35.4),(-0.67,38.2),(-0.66,36.5),(-0.65,37.5),(-0.64,35.2),(-0.63,36.9),(-0.62,35.9),(-0.61,37.7),
    (-0.60,36.2),(-0.59,37.3),(-0.58,38.2),(-0.57,36.5),(-0.56,35.3),(-0.55,37.3),(-0.54,36.1),(-0.53,35.1),
    (-0.52,36.9),(-0.51,35.9),(-0.50,36.3),(-0.49,35.4),(-0.48,36.9),(-0.47,37.5),(-0.46,35.9),(-0.45,37.1),
    (-1.60,37.3),(-1.58,36.6),(-1.57,37.8),(-1.55,37.9),(-1.53,36.7),(-1.51,36.9),(-1.50,38.1),(-1.48,37.7),
    (-1.47,35.7),(-1.46,36.9),(-1.44,37.3),(-1.42,36.3),(-1.41,38.2),(-1.40,37.7),(-1.38,37.0),(-1.37,36.0),
    (-1.36,37.4),(-1.34,37.9),(-1.33,36.7),
    (-1.20,36.7),(-1.15,36.1),(-1.10,36.8),(-1.05,37.3),(-1.00,36.6),(-0.95,37.7),(-0.90,37.2),(-0.85,36.6),
    (-0.80,37.0),(-0.75,37.4),(-0.70,36.6),(-0.65,36.1),(-0.60,36.8),(-1.25,36.9),(-1.12,38.3),(-0.98,38.4),
    (-0.83,38.4),
])

# regression coefficients printed on each panel
intercepts = [36.66, 36.50, 37.08, 36.13]
slopes = [-0.33, -0.58, 0.25, -0.67]
eq_labels = ["Y= (36.66 - 0.33 X)", "Y= (36.50 - 0.58 X)", "Y= (37.08 + 0.25 X)", "Y= (36.13 - 0.67 X)"]
p_labels = ["P< 0.001", "P< 0.0001", "P= 0.2", "P< 0.0001"]
r2_labels = ["R\u00b2= 1.6%", "R\u00b2= 4.7%", "R\u00b2= 0.4%", "R\u00b2= 3.9%"]
panel_names = ["A2", "B2", "C2", "D2"]
x_titles = ["Log number of FFRs per 1000 population",
            "Log number of FSRs per 1000 population",
            "Log number of delivery shops per 1000 population",
            "Log number of takeaways per 1000 population"]
y_title = "Adjusted %fat for fish&chip shops per PD"
xticks_list = [[-2.0, -1.5, -1.0, -0.5, 0.0, 0.5],
               [-2.0, -1.5, -1.0, -0.5, 0.0, 0.5, 1.0],
               [-2.0, -1.75, -1.5, -1.25, -1.0, -0.75, -0.5],
               [-2.0, -1.5, -1.0, -0.5, 0.0]]
yticks = [32, 33, 34, 35, 36, 37, 38, 39, 40, 41]

W, H = 5956, 3506
fig = plt.figure(figsize=(W / 400, H / 400), dpi=400)


def fx(px):
    return px / W


def fy(py):
    return 1 - py / H


# layout in pixels: axes box (left, top, right, bottom), xlim, ylim,
# tick format, panel tag pos, ylabel pos, xlabel pos, annotation baseline + lefts
layout = [
    dict(box=(447, 128, 2807, 1457), xlim=(-2.049, 0.774), ylim=(31.84, 41.96), fmt='%.1f',
         tag=(121, 89), ylab=(214, 795), xlab=(1625, 1632), ann_y=145, ann_x=(1672, 2290, 2622)),
    dict(box=(3288, 128, 5671, 1449), xlim=(-2.045, 1.039), ylim=(31.84, 41.95), fmt='%.1f',
         tag=(2967, 89), ylab=(3055, 787), xlab=(4476, 1621), ann_y=140, ann_x=(4532, 5142, 5482)),
    dict(box=(437, 1832, 2778, 3103), xlim=(-2.032, -0.340), ylim=(31.85, 41.03), fmt='%.2f',
         tag=(124, 1790), ylab=(223, 2446), xlab=(1603, 3281), ann_y=1820, ann_x=(1682, 2309, 2613)),
    dict(box=(3286, 1790, 5671, 3103), xlim=(-2.038, 0.282), ylim=(31.84, 41.96), fmt='%.1f',
         tag=(2969, 1770), ylab=(3062, 2440), xlab=(4477, 3281), ann_y=1818, ann_x=(4513, 5132, 5478)),
]

datasets = [ffr_pts, fsr_pts, delivery_pts, takeaway_pts]
axis_col = '#333333'

for i, (pts, lay) in enumerate(zip(datasets, layout)):
    l, t, r, b = lay['box']
    ax = fig.add_axes([fx(l), fy(b), (r - l) / W, (b - t) / H])
    x, y = pts[:, 0], pts[:, 1]

    xs = np.array([x.min(), x.max()])
    ax.plot(xs, intercepts[i] + slopes[i] * xs, color='#2b2b2b', lw=1.2, zorder=1)
    ax.scatter(x, y, s=56, color='black', linewidths=0, zorder=2)

    ax.set_xlim(*lay['xlim'])
    ax.set_ylim(*lay['ylim'])
    ax.set_xticks(xticks_list[i])
    ax.set_yticks(yticks)
    ax.xaxis.set_major_formatter(FormatStrFormatter(lay['fmt']))
    for s in ['top', 'right']:
        ax.spines[s].set_visible(False)
    for s in ['left', 'bottom']:
        ax.spines[s].set_color(axis_col)
        ax.spines[s].set_linewidth(1.2)
    ax.tick_params(direction='out', length=2.8, width=1.0, color=axis_col,
                   labelsize=11.5, labelcolor='#1a1a1a', pad=3.5)

    fig.text(fx(lay['tag'][0]), fy(lay['tag'][1]), panel_names[i], ha='center', va='center',
             fontsize=11, fontweight='bold', family='Liberation Sans', color='black')
    fig.text(fx(lay['ylab'][0]), fy(lay['ylab'][1]), y_title, rotation=90, ha='center', va='center',
             fontsize=11.2, color='#3a3a3a')
    fig.text(fx(lay['xlab'][0]), fy(lay['xlab'][1]), x_titles[i], ha='center', va='center',
             fontsize=12.3, color='#2a2a2a')
    for txt, px in zip([eq_labels[i], p_labels[i], r2_labels[i]], lay['ann_x']):
        fig.text(fx(px), fy(lay['ann_y']), txt, ha='left', va='baseline', fontsize=11,
                 fontweight='bold', family='Liberation Sans', color='#111111')

# light grey frame lines between the panels
sep = dict(color='#ececec', lw=1.2, transform=fig.transFigure)
fig.add_artist(Line2D([fx(133), fx(5801)], [fy(1710), fy(1710)], **sep))
fig.add_artist(Line2D([fx(133), fx(5801)], [fy(3370), fy(3370)], **sep))
fig.add_artist(Line2D([fx(2911), fx(2911)], [fy(57), fy(3400)], **sep))

fig.savefig("out.png", dpi=400, facecolor='white')
